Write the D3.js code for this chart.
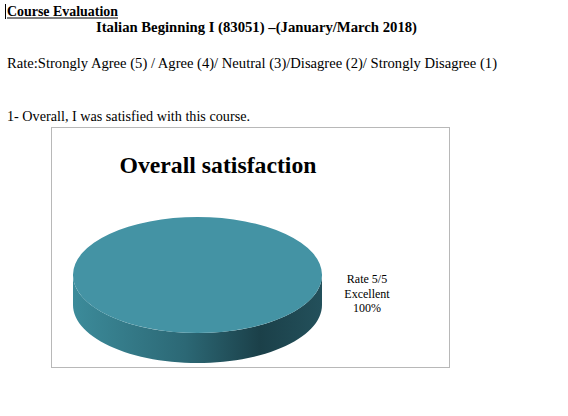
<!DOCTYPE html>
<html>
<head>
<meta charset="utf-8">
<script src="https://cdn.jsdelivr.net/npm/d3@7"></script>
<style>
  body { margin: 0; background: #fff; }
  text { font-family: "Liberation Serif", "DejaVu Serif", serif; fill: #000; }
</style>
</head>
<body>
<script>
// chart data
var categories = ["Rate 5/5 Excellent"];
var labelLines = [["Rate 5/5", "Excellent", "100%"]];
var values = [100];
var chartTitle = "Overall satisfaction";

var width = 568, height = 416;
var svg = d3.select("body").append("svg")
    .attr("width", width)
    .attr("height", height);

// page text above the chart
svg.append("line")
    .attr("x1", 5.5).attr("x2", 5.5).attr("y1", 4).attr("y2", 19)
    .style("stroke", "#000").style("stroke-width", 1);
svg.append("text")
    .attr("x", 7).attr("y", 16)
    .attr("textLength", 111).attr("lengthAdjust", "spacingAndGlyphs")
    .style("font-size", "14.5px").style("font-weight", "bold")
    .text("Course Evaluation");
svg.append("line")
    .attr("x1", 7).attr("x2", 118).attr("y1", 18).attr("y2", 18)
    .style("stroke", "#000").style("stroke-width", 1);
svg.append("text")
    .attr("x", 96).attr("y", 32)
    .attr("textLength", 321).attr("lengthAdjust", "spacingAndGlyphs")
    .style("font-size", "14.5px").style("font-weight", "bold")
    .text("Italian Beginning I (83051) \u2013(January/March 2018)");
svg.append("text")
    .attr("x", 7).attr("y", 68)
    .attr("textLength", 490).attr("lengthAdjust", "spacingAndGlyphs")
    .style("font-size", "14.5px")
    .text("Rate:Strongly Agree (5) / Agree (4)/ Neutral (3)/Disagree (2)/ Strongly Disagree (1)");
svg.append("text")
    .attr("x", 7).attr("y", 121)
    .attr("textLength", 243).attr("lengthAdjust", "spacingAndGlyphs")
    .style("font-size", "14.5px")
    .text("1- Overall, I was satisfied with this course.");

// chart frame
svg.append("rect")
    .attr("x", 51.5).attr("y", 127.5)
    .attr("width", 398).attr("height", 240)
    .style("fill", "#fff").style("stroke", "#b8b8b8").style("stroke-width", 1);

svg.append("text")
    .attr("x", 218).attr("y", 173)
    .attr("text-anchor", "middle")
    .attr("textLength", 197).attr("lengthAdjust", "spacingAndGlyphs")
    .style("font-size", "23px").style("font-weight", "bold")
    .text(chartTitle);

// 3D pie
var cx = 197.5, cy = 275, rx = 124.5, ry = 58, depth = 30;

var grad = svg.append("defs").append("linearGradient")
    .attr("id", "side").attr("x1", "0%").attr("x2", "100%");
grad.append("stop").attr("offset", "0%").attr("stop-color", "#3c8b9a");
grad.append("stop").attr("offset", "45%").attr("stop-color", "#2c6875");
grad.append("stop").attr("offset", "75%").attr("stop-color", "#1b4049");
grad.append("stop").attr("offset", "100%").attr("stop-color", "#23505b");

var pie = d3.pie().sort(null).value(function (d) { return d; });
var slices = pie(values);

var arc = d3.arc().innerRadius(0).outerRadius(rx);

// side wall: front half of the slice rim, pushed down by depth
function sideGen(s) {
  // pie angles start at 12 o'clock; only the part facing the viewer is visible
  var a0 = Math.max(s.startAngle, Math.PI / 2),
      a1 = Math.min(s.endAngle, Math.PI * 1.5),
      n = 60, i, t, p = d3.path();
  if (a1 <= a0) return null;
  for (i = 0; i <= n; i++) {
    t = a0 + (a1 - a0) * i / n;
    var x = cx + rx * Math.sin(t), y = cy - ry * Math.cos(t);
    if (i === 0) p.moveTo(x, y); else p.lineTo(x, y);
  }
  for (i = n; i >= 0; i--) {
    t = a0 + (a1 - a0) * i / n;
    p.lineTo(cx + rx * Math.sin(t), cy + depth - ry * Math.cos(t));
  }
  p.closePath();
  return p.toString();
}

svg.selectAll("path.side")
    .data(slices)
    .enter().append("path")
    .attr("class", "side")
    .attr("d", sideGen)
    .style("fill", "url(#side)");

svg.selectAll("path.top")
    .data(slices)
    .enter().append("path")
    .attr("class", "top")
    .attr("transform", "translate(" + cx + "," + cy + ") scale(1," + (ry / rx) + ")")
    .attr("d", arc)
    .style("fill", "#4493a4");

// data label
var lbl = svg.selectAll("text.lbl")
    .data(labelLines)
    .enter().append("text")
    .attr("class", "lbl")
    .attr("text-anchor", "middle")
    .style("font-size", "12px");
lbl.selectAll("tspan")
    .data(function (d) { return d; })
    .enter().append("tspan")
    .attr("x", 367)
    .attr("y", function (d, i) { return 283 + i * 14.5; })
    .text(function (d) { return d; });
</script>
</body>
</html>
